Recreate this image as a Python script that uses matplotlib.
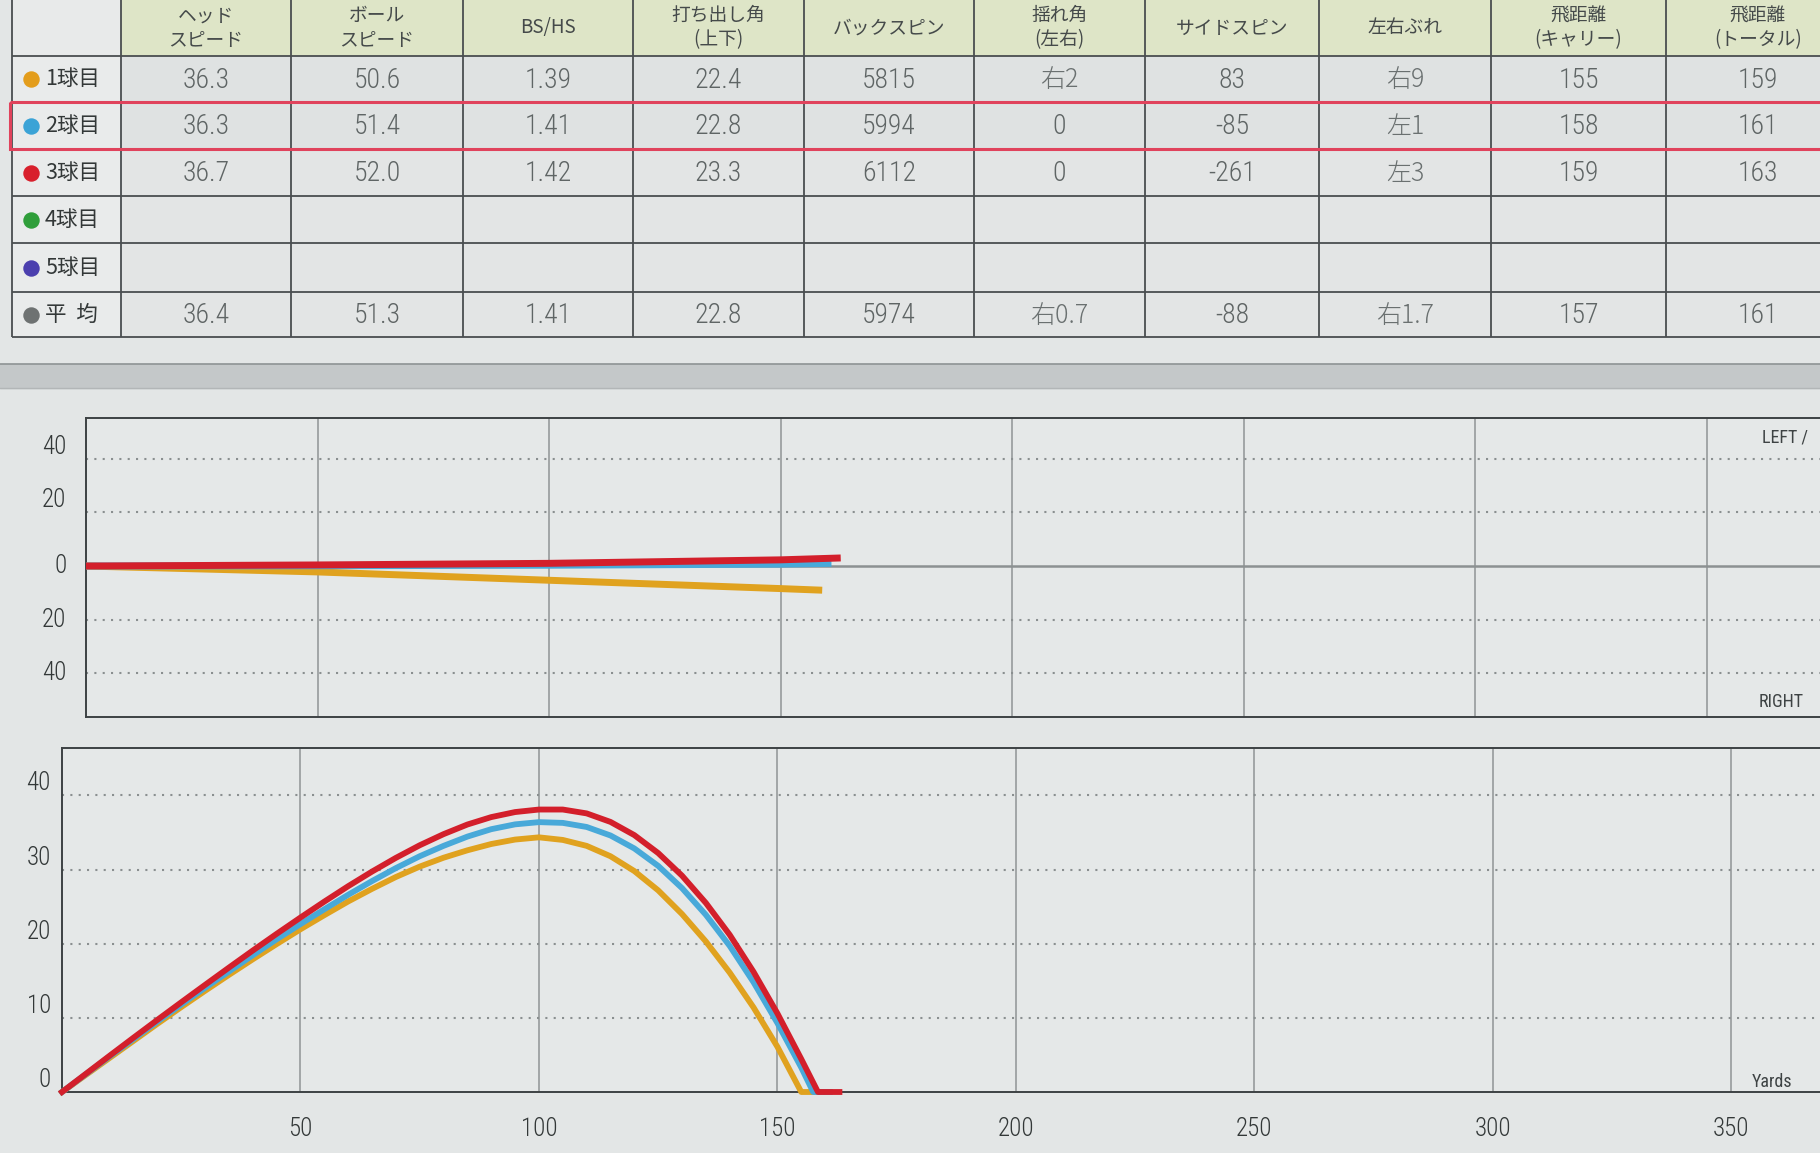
import matplotlib
matplotlib.use('Agg')
import matplotlib.pyplot as plt
from matplotlib import font_manager
from matplotlib.patches import Rectangle

plt.rcParams['font.family'] = ['Noto Sans CJK JP', 'DejaVu Sans']


def pick_font(names, fallback):
    for name in names:
        try:
            font_manager.findfont(name, fallback_to_default=False)
            return name
        except ValueError:
            pass
    return fallback


NARROW = pick_font(['Liberation Sans Narrow', 'Roboto Condensed', 'Roboto'], 'DejaVu Sans')

# ---- table data ----
row_labels = ['1球目', '2球目', '3球目', '4球目', '5球目', '平  均']
dot_colors = ['#e39d1c', '#3ba3d6', '#d8202c', '#2f9e3a', '#4b3fae', '#6e7272']
col_headers = ['ヘッド\nスピード', 'ボール\nスピード', 'BS/HS', '打ち出し角\n(上下)',
               'バックスピン', '揺れ角\n(左右)', 'サイドスピン', '左右ぶれ',
               '飛距離\n(キャリー)', '飛距離\n(トータル)']
head_speed = ['36.3', '36.3', '36.7', '', '', '36.4']
ball_speed = ['50.6', '51.4', '52.0', '', '', '51.3']
bs_hs = ['1.39', '1.41', '1.42', '', '', '1.41']
launch_v = ['22.4', '22.8', '23.3', '', '', '22.8']
backspin = ['5815', '5994', '6112', '', '', '5974']
launch_h = ['右2', '0', '0', '', '', '右0.7']
sidespin = ['83', '-85', '-261', '', '', '-88']
lateral = ['右9', '左1', '左3', '', '', '右1.7']
carry = ['155', '158', '159', '', '', '157']
total = ['159', '161', '163', '', '', '161']
table_cols = [head_speed, ball_speed, bs_hs, launch_v, backspin,
              launch_h, sidespin, lateral, carry, total]

# ---- trajectory data (yards) ----
# top view: distance vs left(+)/right(-)
side_x_1 = [0, 50, 100, 150, 159]
side_y_1 = [0, -2.2, -5.3, -8.4, -9.0]
side_x_2 = [0, 50, 100, 150, 161]
side_y_2 = [0, 0.1, 0.3, 0.7, 1.0]
side_x_3 = [0, 50, 100, 150, 163]
side_y_3 = [0, 0.4, 1.0, 2.3, 3.0]

# side view: distance vs height (last point = roll out on the ground)
traj_x_1 = [0, 5, 10, 15, 20, 25, 30, 35, 40, 45, 50, 55, 60, 65, 70, 75, 80, 85,
            90, 95, 100, 105, 110, 115, 120, 125, 130, 135, 140, 145, 150, 155, 159]
traj_h_1 = [0, 2.3, 4.6, 6.9, 9.2, 11.45, 13.65, 15.8, 17.9, 19.95, 21.95, 23.85,
            25.7, 27.4, 29.0, 30.4, 31.6, 32.6, 33.45, 34.05, 34.35, 34.0, 33.2,
            31.8, 29.8, 27.2, 24.0, 20.3, 16.1, 11.4, 6.1, 0, 0]
traj_x_2 = [0, 5, 10, 15, 20, 25, 30, 35, 40, 45, 50, 55, 60, 65, 70, 75, 80, 85,
            90, 95, 100, 105, 110, 115, 120, 125, 130, 135, 140, 145, 150, 155,
            157.5, 161]
traj_h_2 = [0, 2.4, 4.8, 7.15, 9.5, 11.8, 14.05, 16.25, 18.45, 20.6, 22.65, 24.65,
            26.6, 28.45, 30.2, 31.8, 33.2, 34.45, 35.45, 36.1, 36.4, 36.3, 35.75,
            34.6, 32.85, 30.5, 27.5, 23.9, 19.7, 14.8, 9.3, 3.3, 0, 0]
traj_x_3 = [0, 5, 10, 15, 20, 25, 30, 35, 40, 45, 50, 55, 60, 65, 70, 75, 80, 85,
            90, 95, 100, 105, 110, 115, 120, 125, 130, 135, 140, 145, 150, 155,
            158.5, 163]
traj_h_3 = [0, 2.45, 4.9, 7.33, 9.73, 12.1, 14.45, 16.78, 19.08, 21.33, 23.53,
            25.68, 27.76, 29.73, 31.58, 33.28, 34.78, 36.08, 37.08, 37.76, 38.1,
            38.1, 37.58, 36.43, 34.65, 32.23, 29.18, 25.5, 21.2, 16.2, 10.6, 4.45,
            0, 0]

line_colors = ['#e0a21f', '#48a9d9', '#d31f2b']
x_ticks = [50, 100, 150, 200, 250, 300, 350]

BG = '#e3e6e6'
NUM_FONT = [NARROW, 'DejaVu Sans']
fig = plt.figure(figsize=(18.2, 11.53), dpi=100, facecolor=BG)

# ---------------- table ----------------
ax_t = fig.add_axes([0, 1 - 400 / 1153, 1, 400 / 1153])
ax_t.set_xlim(0, 1820)
ax_t.set_ylim(400, 0)
ax_t.axis('off')

col_edges = [12, 121, 291, 463, 633, 804, 974, 1145, 1319, 1491, 1666, 1850]
row_edges = [0, 56, 102, 149, 196, 243, 292, 337]

for r in range(len(row_edges) - 1):
    for c in range(len(col_edges) - 1):
        if r == 0:
            fc = '#e8eaea' if c == 0 else '#dee5c7'
        elif c == 0:
            fc = '#e9ebeb'
        else:
            fc = '#dfe2e2' if r in (1, 2) else '#e3e5e5'
        ax_t.add_patch(Rectangle((col_edges[c], row_edges[r]),
                                 col_edges[c + 1] - col_edges[c],
                                 row_edges[r + 1] - row_edges[r],
                                 fc=fc, ec='none', zorder=1))

ax_t.vlines(col_edges[:-1], row_edges[0], row_edges[-1], color='#4a4e50', lw=1.3, zorder=2)
ax_t.hlines(row_edges[1:], col_edges[0], 1820, color='#4a4e50', lw=1.3, zorder=2)

# highlighted row (2球目)
ax_t.add_patch(Rectangle((col_edges[0] - 2, row_edges[2]), 1840, row_edges[3] - row_edges[2],
                         fc='none', ec='#e0435c', lw=2.2, zorder=3))

for c, head in enumerate(col_headers):
    cx = (col_edges[c + 1] + col_edges[c + 2]) / 2
    ax_t.text(cx, (row_edges[0] + row_edges[1]) / 2, head, ha='center', va='center',
              fontsize=13.5, color='#454a4a', linespacing=1.2, zorder=4)

for r, lab in enumerate(row_labels):
    cy = (row_edges[r + 1] + row_edges[r + 2]) / 2
    ax_t.scatter([31], [cy], s=140, color=dot_colors[r], zorder=4, linewidths=0)
    ax_t.text(45, cy, lab, ha='left', va='center', fontsize=15.5, color='#333838', zorder=4)
    for c, col in enumerate(table_cols):
        cx = (col_edges[c + 1] + col_edges[c + 2]) / 2
        txt = col[r]
        if any(ch in txt for ch in '右左'):
            ax_t.text(cx, cy + 1, txt, ha='center', va='center', fontsize=18,
                      color='#6a7070', family=['Noto Sans CJK JP'], fontweight='light',
                      zorder=4)
        else:
            ax_t.text(cx, cy + 1, txt, ha='center', va='center', fontsize=20,
                      color='#5f6565', family=NUM_FONT, fontweight='light', zorder=4)

# band under the table
ax_t.axhspan(364, 388, color='#c4c8c9', zorder=1)
ax_t.axhline(364, color='#8f9495', lw=1.2, zorder=2)
ax_t.axhline(388, color='#b2b6b7', lw=1.0, zorder=2)


def style_chart(ax):
    ax.set_facecolor('#e5e8e8')
    for s in ['left', 'top', 'bottom']:
        ax.spines[s].set_color('#3d4244')
        ax.spines[s].set_linewidth(1.4)
    ax.spines['right'].set_visible(False)
    ax.tick_params(length=0, colors='#333838', labelsize=18)
    ax.set_xticks(x_ticks)
    ax.grid(axis='x', color='#9ca1a2', lw=1.3)
    ax.set_axisbelow(True)


# ---------------- top view chart ----------------
ax_s = fig.add_axes([86 / 1820, 1 - 717 / 1153, 1 - 86 / 1820, 299 / 1153])
style_chart(ax_s)
ax_s.set_xlim(0, 374.5)
ax_s.set_ylim(-56.2, 55.1)
ax_s.set_yticks([40, 20, 0, -20, -40], ['40', '20', '0', '20', '40'])
ax_s.tick_params(axis='y', pad=14)
ax_s.tick_params(axis='x', labelbottom=False)
for lbl, va in zip(ax_s.get_yticklabels(), ['bottom', 'bottom', 'center', 'center', 'center']):
    lbl.set_family(NUM_FONT)
    lbl.set_fontweight('light')
    lbl.set_va(va)
for yv in [40, 20, -20, -40]:
    ax_s.axhline(yv, color='#8a8f90', lw=1.5, ls=(0, (1, 3)), zorder=1)
ax_s.axhline(0, color='#8c9192', lw=1.8, zorder=1)
for sx, sy, col in zip([side_x_1, side_x_2, side_x_3], [side_y_1, side_y_2, side_y_3], line_colors):
    ax_s.plot(sx, sy, color=col, lw=5, solid_capstyle='butt', zorder=3)
ax_s.text(0.9665, 0.936, 'LEFT /', transform=ax_s.transAxes, ha='left', va='center',
          fontsize=13, color='#3e4344', family=NUM_FONT)
ax_s.text(0.9645, 0.05, 'RIGHT', transform=ax_s.transAxes, ha='left', va='center',
          fontsize=13, color='#3e4344', family=NUM_FONT)

# ---------------- height chart ----------------
ax_h = fig.add_axes([62 / 1820, 1 - 1092 / 1153, 1 - 62 / 1820, 344 / 1153])
style_chart(ax_h)
ax_h.set_xlim(0, 368.6)
ax_h.set_ylim(0, 46.4)
ax_h.set_yticks([0, 10, 20, 30, 40], ['0', '10', '20', '30', '40'], va='bottom')
ax_h.tick_params(axis='y', pad=8)
ax_h.tick_params(axis='x', pad=18)
for lbl in ax_h.get_xticklabels() + ax_h.get_yticklabels():
    lbl.set_family(NUM_FONT)
    lbl.set_fontweight('light')
for yv in [10, 20, 30, 40]:
    ax_h.axhline(yv, color='#8a8f90', lw=1.5, ls=(0, (1, 3)), zorder=1)
for tx, th, col in zip([traj_x_1, traj_x_2, traj_x_3], [traj_h_1, traj_h_2, traj_h_3], line_colors):
    ax_h.plot(tx, th, color=col, lw=4.2, solid_joinstyle='round', clip_on=False, zorder=3)
ax_h.text(0.961, 0.03, 'Yards', transform=ax_h.transAxes, ha='left', va='center',
          fontsize=13, color='#3e4344', family=NUM_FONT)

fig.savefig('out.png', dpi=100, facecolor=BG)
